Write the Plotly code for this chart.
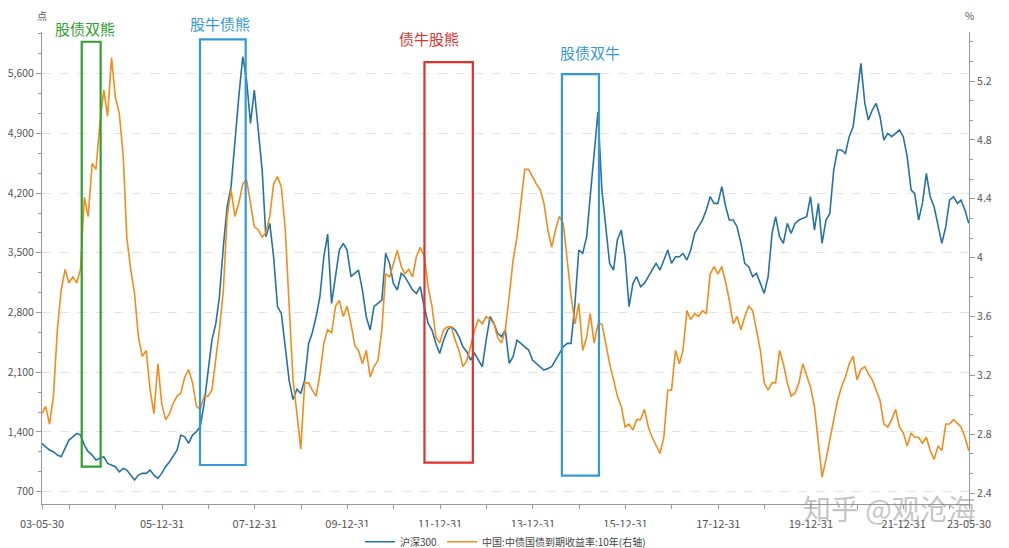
import pandas as pd
import plotly.graph_objects as go

# monthly readings from 2003-05 to 2023-05
dates = pd.date_range("2003-05-28", periods=241, freq=pd.DateOffset(months=1))

hs300 = [
    1266, 1227, 1188, 1169, 1130, 1110, 1208, 1305, 1344, 1384, 1364, 1247, 1169, 1130, 1071, 1090, 1110, 1032, 1012, 993,
    934, 973, 954, 895, 837, 895, 915, 915, 954, 895, 856, 915, 993, 1052, 1110, 1188, 1364, 1344, 1266, 1364,
    1403, 1462, 1735, 2087, 2477, 2673, 2985, 3571, 4040, 4275, 4822, 5330, 5800, 5525, 5017, 5408, 4939, 4470, 3689, 3845,
    3454, 2868, 2790, 2399, 2000, 1780, 1900, 1850, 2009, 2438, 2556, 2751, 2985, 3454, 3720, 2907, 3220, 3532, 3611, 3532,
    3220, 3259, 3298, 3064, 2751, 2595, 2868, 2907, 2946, 3493, 3376, 3142, 3064, 3259, 3220, 3142, 3064, 3024, 3103, 2868,
    2673, 2595, 2438, 2321, 2477, 2595, 2634, 2595, 2517, 2399, 2341, 2243, 2321, 2243, 2165, 2477, 2751, 2673, 2556, 2517,
    2595, 2204, 2282, 2477, 2438, 2399, 2360, 2243, 2204, 2165, 2126, 2145, 2165, 2243, 2321, 2399, 2438, 2438, 2907, 3532,
    3493, 3689, 4158, 4626, 5150, 4236, 3767, 3376, 3298, 3650, 3767, 3454, 2868, 3142, 3220, 3103, 3142, 3220, 3298, 3376,
    3298, 3415, 3532, 3376, 3454, 3454, 3493, 3415, 3532, 3728, 3806, 3884, 4001, 4158, 4079, 4079, 4275, 4040, 3884, 3884,
    3806, 3611, 3376, 3337, 3220, 3259, 3142, 3024, 3220, 3728, 3923, 3689, 3611, 3845, 3728, 3845, 3884, 3904, 3923, 4158,
    3767, 4079, 3611, 3884, 3962, 4470, 4705, 4705, 4665, 4861, 4978, 5330, 5720, 5251, 5056, 5173, 5251, 5095, 4822, 4900,
    4861, 4900, 4939, 4861, 4626, 4236, 4197, 3884, 4079, 4431, 4158, 4040, 3806, 3611, 3806, 4118, 4158, 4079, 4118, 4001,
    3845,
]

yield10y = [
    2.94, 2.99, 2.87, 3.06, 3.51, 3.78, 3.92, 3.83, 3.87, 3.83, 3.92, 4.41, 4.28, 4.64, 4.60, 4.91, 5.14, 4.96, 5.36, 5.09,
    4.98, 4.69, 4.14, 3.92, 3.76, 3.46, 3.33, 3.37, 3.10, 2.94, 3.28, 3.01, 2.90, 2.94, 3.01, 3.06, 3.08, 3.19, 3.24, 3.15,
    2.99, 2.97, 3.06, 3.06, 3.10, 3.30, 3.51, 3.78, 4.28, 4.46, 4.28, 4.37, 4.50, 4.53, 4.37, 4.21, 4.19, 4.14, 4.17, 4.28,
    4.50, 4.55, 4.48, 4.19, 3.67, 3.17, 2.94, 2.70, 3.15, 3.15, 3.10, 3.06, 3.21, 3.42, 3.51, 3.49, 3.67, 3.71, 3.60, 3.67,
    3.55, 3.40, 3.37, 3.28, 3.37, 3.19, 3.26, 3.30, 3.51, 3.89, 3.87, 3.96, 4.05, 3.94, 3.89, 3.92, 3.87, 4.01, 4.07, 4.01,
    3.80, 3.67, 3.46, 3.42, 3.51, 3.53, 3.53, 3.44, 3.37, 3.26, 3.30, 3.40, 3.51, 3.58, 3.55, 3.60, 3.58, 3.55, 3.46, 3.42,
    3.51, 3.74, 3.98, 4.14, 4.37, 4.60, 4.60, 4.55, 4.50, 4.46, 4.37, 4.19, 4.07, 4.19, 4.28, 4.23, 3.96, 3.74, 3.55, 3.69,
    3.37, 3.46, 3.62, 3.42, 3.55, 3.55, 3.42, 3.28, 3.17, 3.06, 2.99, 2.85, 2.87, 2.83, 2.90, 2.90, 2.97, 2.85, 2.78, 2.72,
    2.67, 2.78, 3.10, 3.10, 3.37, 3.28, 3.37, 3.64, 3.58, 3.62, 3.60, 3.64, 3.62, 3.89, 3.94, 3.89, 3.94, 3.83, 3.71, 3.55,
    3.60, 3.51, 3.60, 3.67, 3.64, 3.51, 3.37, 3.15, 3.10, 3.15, 3.15, 3.37, 3.28, 3.15, 3.06, 3.08, 3.15, 3.28, 3.19, 3.12,
    2.99, 2.72, 2.51, 2.63, 2.76, 2.92, 3.03, 3.12, 3.19, 3.28, 3.33, 3.17, 3.24, 3.26, 3.21, 3.17, 3.10, 3.03, 2.87, 2.85,
    2.90, 2.97, 2.85, 2.81, 2.72, 2.81, 2.78, 2.78, 2.74, 2.78, 2.69, 2.63, 2.72, 2.69, 2.87, 2.87, 2.90, 2.87, 2.85, 2.78,
    2.69,
]

left_ticks = [700, 1400, 2100, 2800, 3500, 4200, 4900, 5600]
right_ticks = [2.4, 2.8, 3.2, 3.6, 4.0, 4.4, 4.8, 5.2]
right_labels = ["2.4", "2.8", "3.2", "3.6", "4", "4.4", "4.8", "5.2"]

x_ticks = ["2003-05-30"] + [f"{y}-12-31" for y in range(2003, 2023)] + ["2023-05-30"]
x_labels = (["03-05-30"]
            + [f"{y % 100:02d}-12-31" if (y % 2 == 1 and y >= 2005) else "" for y in range(2003, 2023)]
            + ["23-05-30"])

# (start, end, top, bottom, label, label_x, label_y, colour)
boxes = [
    ("2004-04-07", "2004-09-03", 5974, 993, "股债双熊", "2004-04-30", 1.008, "#2ea02e"),
    ("2006-10-26", "2007-10-21", 6002, 1013, "股牛债熊", "2007-04-02", 1.019, "#3498db"),
    ("2011-08-30", "2012-09-14", 5736, 1040, "债牛股熊", "2011-10-05", 0.987, "#e0312b"),
    ("2014-08-17", "2015-06-05", 5595, 888, "股债双牛", "2015-03-26", 0.956, "#3498db"),
]

font = "Noto Sans CJK SC"

fig = go.Figure()
fig.add_trace(go.Scatter(x=dates, y=hs300, name="沪深300", mode="lines",
                         line=dict(color="#2573a5", width=1.6)))
fig.add_trace(go.Scatter(x=dates, y=yield10y, name="中国:中债国债到期收益率:10年(右轴)", mode="lines",
                         line=dict(color="#f28c1c", width=1.6), yaxis="y2"))

for x0, x1, top, bottom, label, lx, ly, col in boxes:
    fig.add_shape(type="rect", xref="x", yref="y", x0=x0, x1=x1, y0=bottom, y1=top,
                  line=dict(color=col, width=2.2), fillcolor="rgba(0,0,0,0)")
    fig.add_annotation(x=lx, y=ly, xref="x", yref="paper", text=label, showarrow=False,
                       font=dict(family=font, size=15, color=col), yanchor="middle")

fig.add_annotation(x=0, y=1.036, xref="paper", yref="paper", text="点", showarrow=False,
                   font=dict(family=font, size=10, color="#555"), xanchor="center", yanchor="middle")
fig.add_annotation(x=1, y=1.036, xref="paper", yref="paper", text="%", showarrow=False,
                   font=dict(family=font, size=10, color="#555"), xanchor="center", yanchor="middle")
# watermark
fig.add_annotation(x=0.914, y=-0.008, xref="paper", yref="paper", text="知乎 @观沧海", showarrow=False,
                   font=dict(family=font, size=28, color="rgba(140,140,140,0.5)"),
                   xanchor="center", yanchor="middle")

# the page body adds an 8px offset, margins are set so the plot lands where the original does
fig.update_layout(
    width=1009, height=548,
    margin=dict(l=34, r=48, t=24, b=52, autoexpand=False),
    paper_bgcolor="white", plot_bgcolor="white",
    font=dict(family=font, size=11, color="#555"),
    showlegend=True,
    legend=dict(orientation="h", x=0.5, xanchor="center", y=-0.08, yanchor="middle",
                font=dict(size=10, color="#444"), itemwidth=30),
    xaxis=dict(range=["2003-05-30", "2023-05-30"], tickvals=x_ticks, ticktext=x_labels,
               tickangle=0, automargin=False, ticklabelstandoff=6,
               showgrid=False, showline=True, linecolor="#999", ticks="outside", ticklen=4,
               tickcolor="#999", tickfont=dict(size=11, color="#555")),
    yaxis=dict(range=[556, 6088], tickvals=left_ticks, tickformat=",", showline=True,
               automargin=False, tickfont=dict(size=10.5, color="#555"),
               linecolor="#999", ticks="outside", ticklen=5, tickcolor="#999",
               showgrid=True, gridcolor="#e2e2e2", griddash="dash", zeroline=False,
               minor=dict(dtick=700 / 3, tick0=700, ticks="outside", ticklen=3, tickcolor="#999", showgrid=False)),
    yaxis2=dict(range=[2.327, 5.533], tickvals=right_ticks, ticktext=right_labels, overlaying="y",
                side="right", showline=True, linecolor="#999", ticks="outside", ticklen=5,
                automargin=False, tickfont=dict(size=10.5, color="#555"),
                tickcolor="#999", showgrid=False, zeroline=False,
                minor=dict(dtick=0.4 / 3, tick0=2.4, ticks="outside", ticklen=3, tickcolor="#999", showgrid=False)),
)

fig.write_html("out.html")
